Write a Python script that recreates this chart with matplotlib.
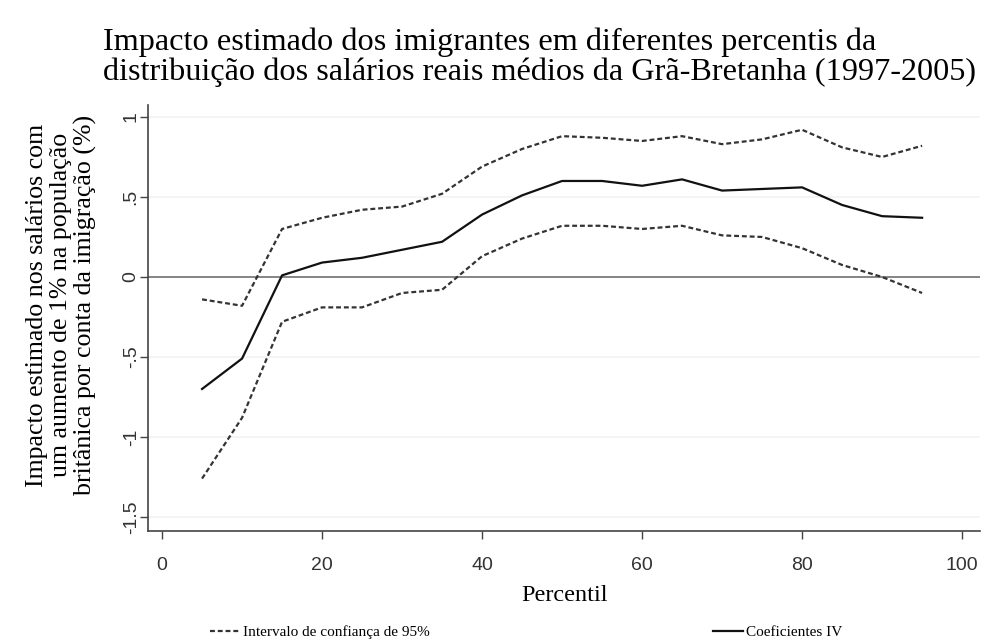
import matplotlib
matplotlib.use('Agg')
import matplotlib.pyplot as plt

percentis = [5, 10, 15, 20, 25, 30, 35, 40, 45, 50, 55, 60, 65, 70, 75, 80, 85, 90, 95]
coef_iv = [-0.70, -0.51, 0.01, 0.09, 0.12, 0.17, 0.22, 0.39, 0.51, 0.60, 0.60, 0.57,
           0.61, 0.54, 0.55, 0.56, 0.45, 0.38, 0.37]
ic_sup = [-0.14, -0.18, 0.30, 0.37, 0.42, 0.44, 0.52, 0.69, 0.80, 0.88, 0.87, 0.85,
          0.88, 0.83, 0.86, 0.92, 0.81, 0.75, 0.82]
ic_inf = [-1.26, -0.88, -0.28, -0.19, -0.19, -0.10, -0.08, 0.13, 0.24, 0.32, 0.32, 0.30,
          0.32, 0.26, 0.25, 0.18, 0.075, 0.0, -0.10]

x_ticks = [0, 20, 40, 60, 80, 100]
y_ticks = [-1.5, -1, -0.5, 0, 0.5, 1]
y_ticklabels = ['-1.5', '-1', '-.5', '0', '.5', '1']

serif = ['Liberation Serif', 'DejaVu Serif']
sans = ['Liberation Sans', 'DejaVu Sans']

fig = plt.figure(figsize=(9.89, 6.44), dpi=100)
ax = fig.add_axes([0.1497, 0.1755, 0.8413, 0.6615])

for v in y_ticks:
    ax.axhline(v, color='#f2f2f2', lw=1.2, zorder=0)
ax.axhline(0, color='#666666', lw=1.1, zorder=1)

dash = (0, (2.2, 1.3))
ax.plot(percentis, ic_sup, color='#333333', lw=1.6, linestyle=dash, zorder=2)
ax.plot(percentis, ic_inf, color='#333333', lw=1.6, linestyle=dash, zorder=2,
        label='Intervalo de confiança de 95%')
ax.plot(percentis, coef_iv, color='#111111', lw=1.6, zorder=3, label='Coeficientes IV')

ax.set_xlim(-1.75, 102.25)
ax.set_ylim(-1.5875, 1.075)
ax.set_xticks(x_ticks)
ax.set_yticks(y_ticks)
ax.set_yticklabels(y_ticklabels, rotation=90, va='center')
for lab in ax.get_xticklabels() + ax.get_yticklabels():
    lab.set_family(sans)
    lab.set_fontsize(14)
    lab.set_color('#333333')
ax.tick_params(direction='out', length=6, width=1, color='#444444')
ax.tick_params(axis='x', pad=13)
ax.tick_params(axis='y', pad=0)

for s in ['top', 'right']:
    ax.spines[s].set_visible(False)
for s in ['left', 'bottom']:
    ax.spines[s].set_color('#444444')
    ax.spines[s].set_linewidth(1.2)

ax.set_xlabel('Percentil', family=serif, fontsize=17.5, labelpad=8)
ax.set_ylabel('Impacto estimado nos salários com\num aumento de 1% na população\n'
              'britânica por conta da imigração (%)', family=serif, fontsize=18.6,
              linespacing=1.12)
ax.yaxis.set_label_coords(-0.0613, 0.53)

fig.text(0.104, 0.957, 'Impacto estimado dos imigrantes em diferentes percentis da\n'
         'distribuição dos salários reais médios da Grã-Bretanha (1997-2005)',
         family=serif, fontsize=23.2, va='top', ha='left', linespacing=1.02)

fig.legend(loc='lower center', bbox_to_anchor=(0.532, -0.014), ncol=2, frameon=False,
           prop={'family': serif, 'size': 11}, handlelength=2.0, columnspacing=18.5,
           handletextpad=0.15)

fig.savefig('out.png', dpi=100)
